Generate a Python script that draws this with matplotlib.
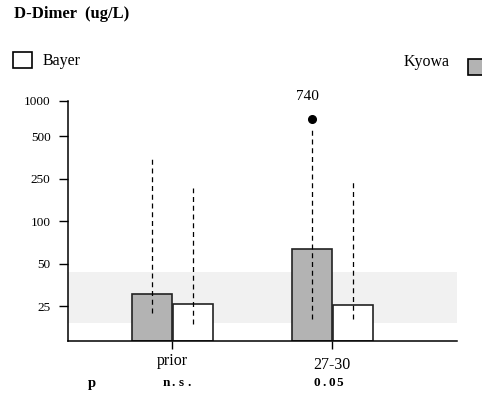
import numpy as np
import matplotlib
matplotlib.use("Agg")
import matplotlib.pyplot as plt
from matplotlib.patches import Rectangle
from matplotlib.transforms import blended_transform_factory

plt.rcParams['font.family'] = ['Liberation Serif', 'DejaVu Serif']

# D-Dimer por método y momento
categorias = ["prior", "27-30"]
kyowa = [32, 67]
bayer = [26, 25.5]
kyowa_max = [364, 585]
kyowa_min = [20, 16]
bayer_max = [216, 239]
bayer_min = [12, 16]
kyowa_outlier = 740
p_valores = ["n.s.", "0.05"]
rango_ref = (13, 45)

# eje y no lineal: cada marca separada por igual
marcas_y = [0, 25, 50, 100, 250, 500, 1000]
pos_y = [0, 0.82, 1.82, 2.82, 3.82, 4.82, 5.65]


def adelante(v):
    return np.interp(v, marcas_y, pos_y)


def atras(p):
    return np.interp(p, pos_y, marcas_y)


def texto_espaciado(fig, x_px, y_px, texto, paso_px, **kw):
    # escribe letra por letra con separación fija (texto centrado en x_px)
    x0 = x_px - paso_px * (len(texto) - 1) / 2
    for i, c in enumerate(texto):
        fig.text((x0 + i * paso_px) / 482, 1 - y_px / 397, c, ha='center', va='center', **kw)


fig = plt.figure(figsize=(4.82, 3.97), dpi=100)
ax = fig.add_axes([68 / 482, 56 / 397, 389 / 482, 240.3 / 397])
ax.set_yscale('function', functions=(adelante, atras))
ax.set_ylim(0, 1000)
ax.set_xlim(-0.652, 1.779)

ax.axhspan(rango_ref[0], rango_ref[1], color='#f1f1f1', zorder=0, lw=0)

x = np.arange(len(categorias))
ancho = 0.25
xk = x - 0.127
xb = x + 0.129
ax.bar(xk, kyowa, ancho, color='#b3b3b3', edgecolor='#222222', lw=1.2, zorder=2)
ax.bar(xb, bayer, ancho, color='white', edgecolor='#222222', lw=1.2, zorder=2)

ax.vlines(xk, kyowa_min, kyowa_max, colors='black', linestyles=(0, (4, 3)), lw=0.9, zorder=3)
ax.vlines(xb, bayer_min, bayer_max, colors='black', linestyles=(0, (4, 3)), lw=0.9, zorder=3)

ax.plot(xk[1], kyowa_outlier, 'o', color='black', ms=5.5, zorder=4)
ax.annotate(str(kyowa_outlier), (xk[1], kyowa_outlier), xytext=(-3, 16),
            textcoords='offset points', ha='center', va='center', fontsize=11)

for s in ['top', 'right']:
    ax.spines[s].set_visible(False)
ax.spines['left'].set_linewidth(1.1)
ax.spines['bottom'].set_linewidth(1.1)

ax.set_yticks(marcas_y[1:])
ax.set_yticklabels([str(m) for m in marcas_y[1:]])
ax.yaxis.set_minor_locator(matplotlib.ticker.NullLocator())
ax.tick_params(axis='y', length=6.5, width=1, pad=6, labelsize=9.5)
ax.set_xticks(x)
ax.set_xticklabels([])
ax.tick_params(axis='x', length=5.8, width=1)

# etiquetas de categoría y p-valores
tr = blended_transform_factory(ax.transData, fig.transFigure)
for xi, cat, yb in zip(x, categorias, [365, 369]):
    ax.text(xi, 1 - yb / 397, cat, transform=tr, ha='center', va='baseline', fontsize=11.5)
x_px = ax.transData.transform(np.column_stack([x, np.zeros(len(x))]))[:, 0]
for xp, pv, dx in zip(x_px, p_valores, [5, -4]):
    texto_espaciado(fig, xp + dx, 383, pv, 7.6, fontsize=9.5, fontweight='bold')
fig.text(92 / 482, 1 - 383 / 397, "p", ha='center', va='center', fontsize=10.5, fontweight='bold')

# título y leyenda
fig.text(14 / 482, 1 - 14 / 397, "D-Dimer  (ug/L)", ha='left', va='center',
         fontsize=12, fontweight='bold')
fig.add_artist(Rectangle((13 / 482, 1 - 68 / 397), 19 / 482, 16 / 397,
                         transform=fig.transFigure, facecolor='white', edgecolor='black', lw=1.2))
fig.text(43 / 482, 1 - 61 / 397, "Bayer", ha='left', va='center', fontsize=11.5)
fig.add_artist(Rectangle((467.5 / 482, 1 - 75 / 397), 19 / 482, 16.5 / 397,
                         transform=fig.transFigure, facecolor='#b3b3b3', edgecolor='black', lw=1.2))
fig.text(449.5 / 482, 1 - 62 / 397, "Kyowa", ha='right', va='center', fontsize=11.5)

fig.savefig("out.png", dpi=100)
